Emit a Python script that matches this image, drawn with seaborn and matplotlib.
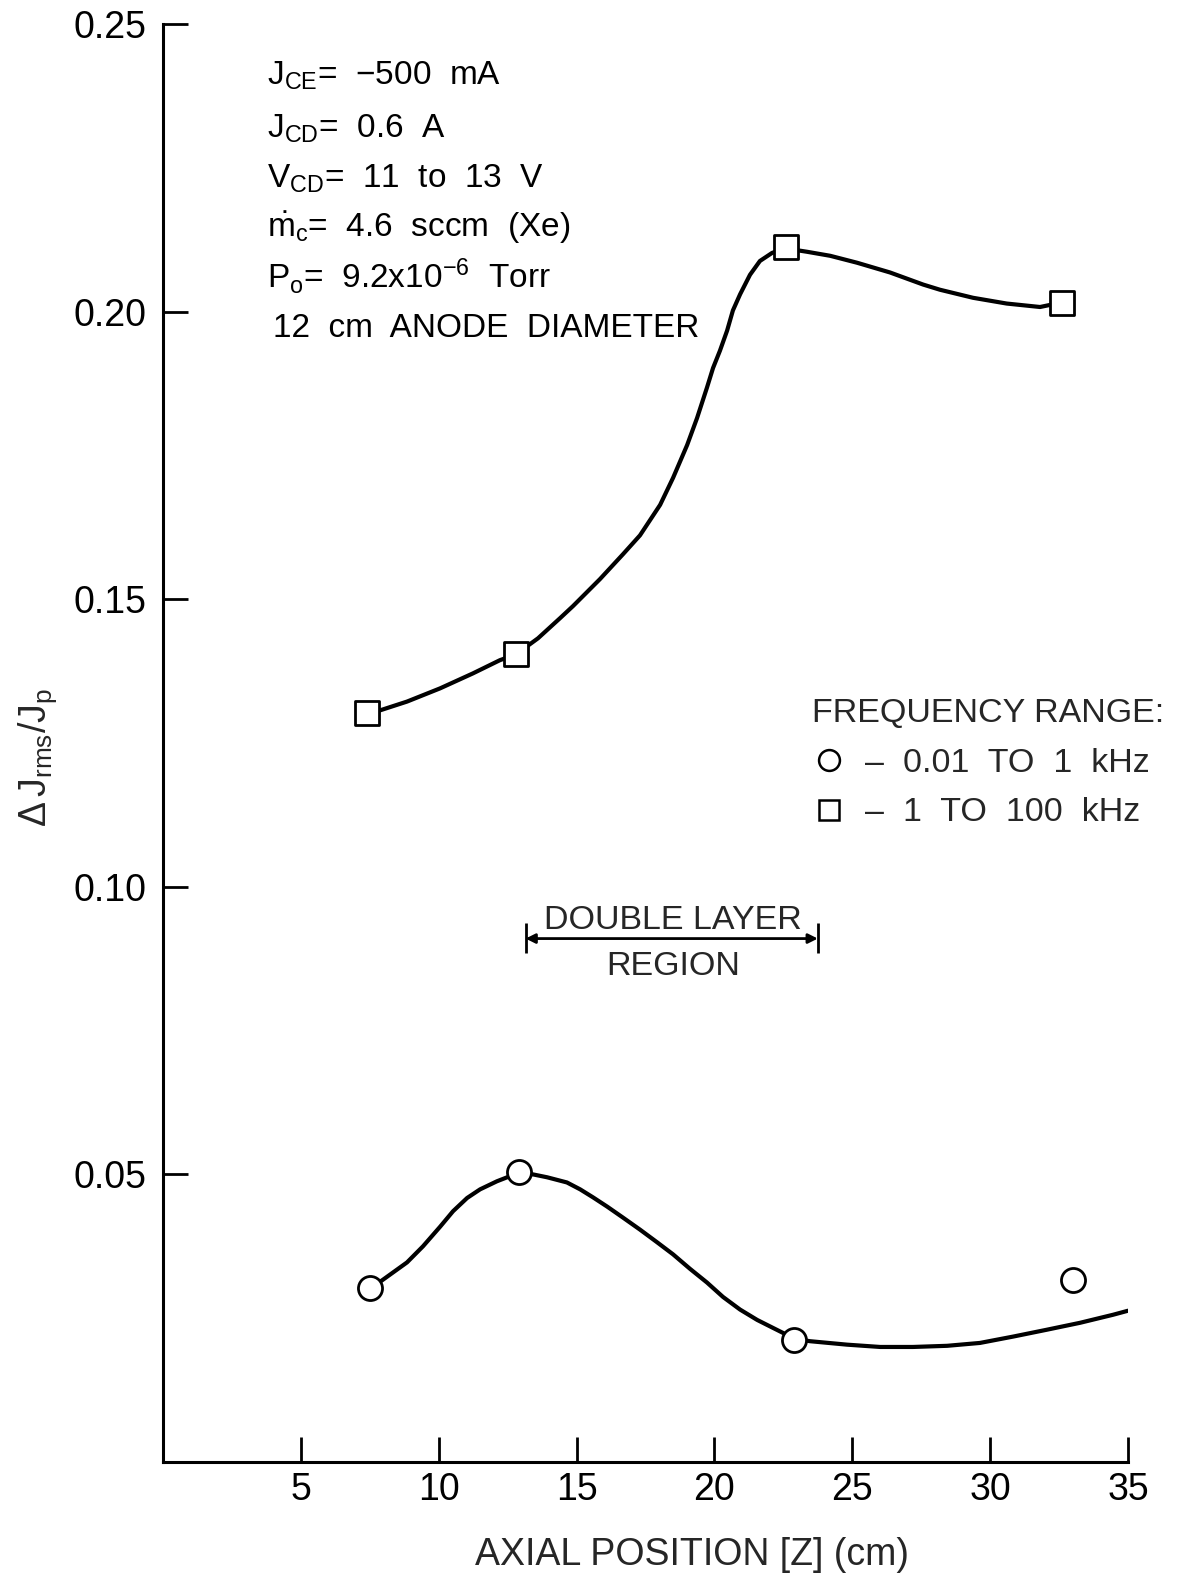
import matplotlib
matplotlib.use("Agg")
import matplotlib.pyplot as plt
from matplotlib.lines import Line2D
import seaborn as sns

# ---- data ----
sq_x = [7.4, 12.8, 22.6, 32.6]
sq_y = [0.1302, 0.1405, 0.2112, 0.2015]
ci_x = [7.5, 12.9, 22.9, 33.0]
ci_y = [0.0302, 0.0505, 0.0212, 0.0317]

# hand-drawn fit curves
up_x = [7.33, 7.76, 8.85, 10.05, 11.24, 12.22, 12.80, 13.60, 14.40, 14.87, 15.85,
        16.68, 17.30, 18.03, 18.50, 19.01, 19.37, 19.73, 19.95, 20.20, 20.46,
        20.67, 20.93, 21.29, 21.65, 22.09, 22.56, 23.36, 24.20, 25.17, 26.37,
        27.57, 28.18, 29.38, 30.60, 31.81, 32.61]
up_y = [0.1298, 0.1305, 0.1322, 0.1345, 0.1371, 0.1394, 0.1404, 0.1432, 0.1467,
        0.1488, 0.1535, 0.1578, 0.1611, 0.1664, 0.1711, 0.1768, 0.1815, 0.1868,
        0.1902, 0.1932, 0.1967, 0.2002, 0.2030, 0.2064, 0.2088, 0.2102, 0.2110,
        0.2104, 0.2097, 0.2085, 0.2068, 0.2047, 0.2038, 0.2024, 0.2014, 0.2008,
        0.2016]
lo_x = [7.51, 7.98, 8.85, 9.43, 10.05, 10.52, 11.03, 11.50, 12.11, 12.59, 12.95,
        13.42, 13.93, 14.65, 15.13, 15.60, 16.11, 16.68, 17.30, 17.92, 18.50,
        19.11, 19.73, 20.31, 20.93, 21.55, 22.13, 22.63, 22.92, 23.47, 24.81,
        26.01, 27.20, 28.44, 29.63, 30.83, 32.06, 33.26, 34.46, 35.0]
lo_y = [0.0301, 0.0317, 0.0347, 0.0375, 0.0409, 0.0436, 0.0459, 0.0474, 0.0488,
        0.0497, 0.0502, 0.0500, 0.0495, 0.0486, 0.0474, 0.0460, 0.0444, 0.0425,
        0.0404, 0.0382, 0.0361, 0.0336, 0.0312, 0.0287, 0.0265, 0.0247, 0.0233,
        0.0221, 0.0214, 0.0210, 0.0204, 0.0200, 0.0200, 0.0202, 0.0207, 0.0218,
        0.0230, 0.0242, 0.0256, 0.0263]

x_ticks = [5, 10, 15, 20, 25, 30, 35]
y_ticks = [0.05, 0.10, 0.15, 0.20, 0.25]
y_ticklabels = ["0.05", "0.10", "0.15", "0.20", "0.25"]

info_lines = [
    r"$\mathregular{J_{CE}}$=  $-$500  mA",
    r"$\mathregular{J_{CD}}$=  0.6  A",
    r"$\mathregular{V_{CD}}$=  11  to  13  V",
    r"$\mathregular{\dot{m}_c}$=  4.6  sccm  (Xe)",
    r"$\mathregular{P_o}$=  9.2x10$\mathregular{^{-6}}$  Torr",
    "12  cm  ANODE  DIAMETER",
]
legend_title = "FREQUENCY RANGE:"
legend_labels = ["–  0.01  TO  1  kHz", "–  1  TO  100  kHz"]

sns.set_theme(style="ticks")
plt.rcParams["font.family"] = ["Liberation Sans", "DejaVu Sans"]
plt.rcParams["mathtext.fontset"] = "custom"
plt.rcParams["mathtext.rm"] = "Liberation Sans"
plt.rcParams["mathtext.it"] = "Liberation Sans:italic"
plt.rcParams["mathtext.sf"] = "Liberation Sans"

W, H = 1188, 1574
fig = plt.figure(figsize=(W / 100, H / 100), dpi=100)
ax = fig.add_axes([163 / W, 1 - 1462 / H, (1128 - 163) / W, (1462 - 24) / H])

lw = 3.0
sns.lineplot(x=up_x, y=up_y, ax=ax, color="black", lw=lw, sort=False,
             estimator=None, zorder=2)
sns.lineplot(x=lo_x, y=lo_y, ax=ax, color="black", lw=lw, sort=False,
             estimator=None, zorder=2)
sns.scatterplot(x=sq_x, y=sq_y, ax=ax, marker="s", s=300, facecolor="white",
                edgecolor="black", linewidth=2.0, zorder=3)
sns.scatterplot(x=ci_x, y=ci_y, ax=ax, marker="o", s=300, facecolor="white",
                edgecolor="black", linewidth=2.0, zorder=3)

ax.set_xlim(0, 35)
ax.set_ylim(0, 0.25)
ax.set_xticks(x_ticks)
ax.set_xticklabels([str(t) for t in x_ticks])
ax.set_yticks(y_ticks)
ax.set_yticklabels(y_ticklabels)
for s in ["top", "right"]:
    ax.spines[s].set_visible(False)
for s in ["left", "bottom"]:
    ax.spines[s].set_linewidth(2.2)
    ax.spines[s].set_color("black")
ax.tick_params(axis="both", direction="in", length=18, width=2.0,
               colors="black", labelsize=27)
ax.tick_params(axis="x", pad=7)
ax.tick_params(axis="y", pad=12)
ax.set_xlabel("AXIAL POSITION [Z] (cm)", fontsize=27)
ax.xaxis.set_label_coords(0.548, -0.052)
ax.set_ylabel(r"$\mathregular{\Delta\,J_{rms}/J_p}$", fontsize=27)
ax.yaxis.set_label_coords(-0.108, 0.49)
ax.grid(False)

# parameter text block
baselines = [0.2394, 0.2303, 0.2216, 0.2129, 0.2042, 0.1955]
lefts = [3.77, 3.77, 3.77, 3.77, 3.77, 4.0]
for txt, yb, xl in zip(info_lines, baselines, lefts):
    ax.text(xl, yb, txt, fontsize=24, ha="left", va="baseline", color="black")

# double layer region annotation
ax.annotate("", xy=(13.15, 0.0910), xytext=(23.75, 0.0910),
            arrowprops=dict(arrowstyle="<|-|>", color="black", lw=2,
                            mutation_scale=14, shrinkA=0, shrinkB=0))
ax.vlines([13.15, 23.75], 0.0885, 0.0937, color="black", lw=2)
ax.text(18.5, 0.0914, "DOUBLE LAYER", fontsize=24.5, ha="center", va="bottom")
ax.text(18.5, 0.0862, "REGION", fontsize=24.5, ha="center", va="center")

# legend
handles = [
    Line2D([], [], marker="o", ls="none", ms=15, mfc="white", mec="black", mew=1.8),
    Line2D([], [], marker="s", ls="none", ms=15, mfc="white", mec="black", mew=1.8),
]
leg = ax.legend(handles, legend_labels, title=legend_title, frameon=False,
                loc="upper left", bbox_to_anchor=(812 / W, 1 - 698 / H),
                bbox_transform=fig.transFigure, fontsize=24.5, title_fontsize=24.5,
                alignment="left", handletextpad=0.55, handlelength=1.0,
                labelspacing=0.55, borderpad=0, borderaxespad=0)

fig.savefig("out.png", dpi=100, facecolor="white")
